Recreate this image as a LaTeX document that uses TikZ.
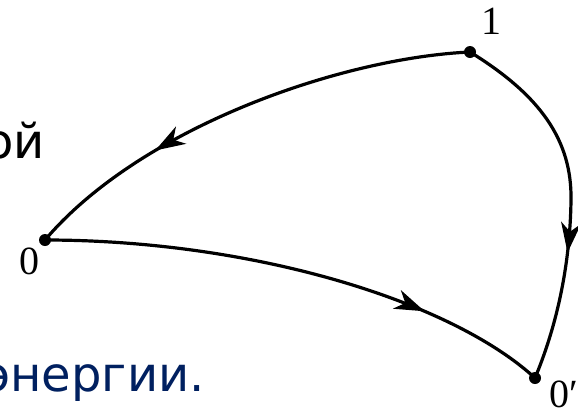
\documentclass[tikz,border=0pt]{standalone}
\usepackage{fontspec}
\setmainfont{Liberation Serif}
\newfontfamily\cyrfont{DejaVu Sans}
\usetikzlibrary{arrows.meta,decorations.markings}
\definecolor{navy}{RGB}{0,32,96}
\tikzset{
  curve/.style={line width=3.2pt,line cap=round},
  midarrow/.style={postaction={decorate},decoration={markings,
     mark=at position #1 with {\arrow{Stealth[length=30pt,width=20pt,inset=9pt]}}}},
  dot/.style={circle,fill=black,inner sep=0pt,minimum size=12pt},
  ptlabel/.style={font=\fontsize{40}{44}\selectfont,inner sep=0pt},
  slidetext/.style={font=\cyrfont\fontsize{48}{54}\selectfont,inner sep=0pt}
}
\begin{document}
\begin{tikzpicture}[x=1pt,y=-1pt]
\useasboundingbox (0,0) rectangle (578,408);
\clip (0,0) rectangle (578,408);
\fill[white] (0,0) rectangle (578,408);
\node[slidetext,anchor=base east] (t1) at (45,158) {ой};
\node[slidetext,anchor=base east,text=navy] (t2) at (205,391) {энергии.};
\coordinate (p1) at (470,52);
\coordinate (p0) at (45,240);
\coordinate (p0p) at (535,378);
\draw[curve,midarrow=0.70] (p1) .. controls (340,58) and (140,128) .. (p0);
\draw[curve,midarrow=0.75] (p0) .. controls (250,240) and (450,300) .. (p0p);
\draw[curve,midarrow=0.65] (p1) .. controls (540,95) and (572,140) .. (571,200) .. controls (570,270) and (555,330) .. (p0p);
\node[dot] (d1) at (p1) {};
\node[dot] (d0) at (p0) {};
\node[dot] (d0p) at (p0p) {};
\node[ptlabel] (l1) at (491,21) {1};
\node[ptlabel] (l0) at (29,261) {0};
\node[ptlabel,anchor=north west] (l0p) at (549,381) {0′};
\end{tikzpicture}
\end{document}
